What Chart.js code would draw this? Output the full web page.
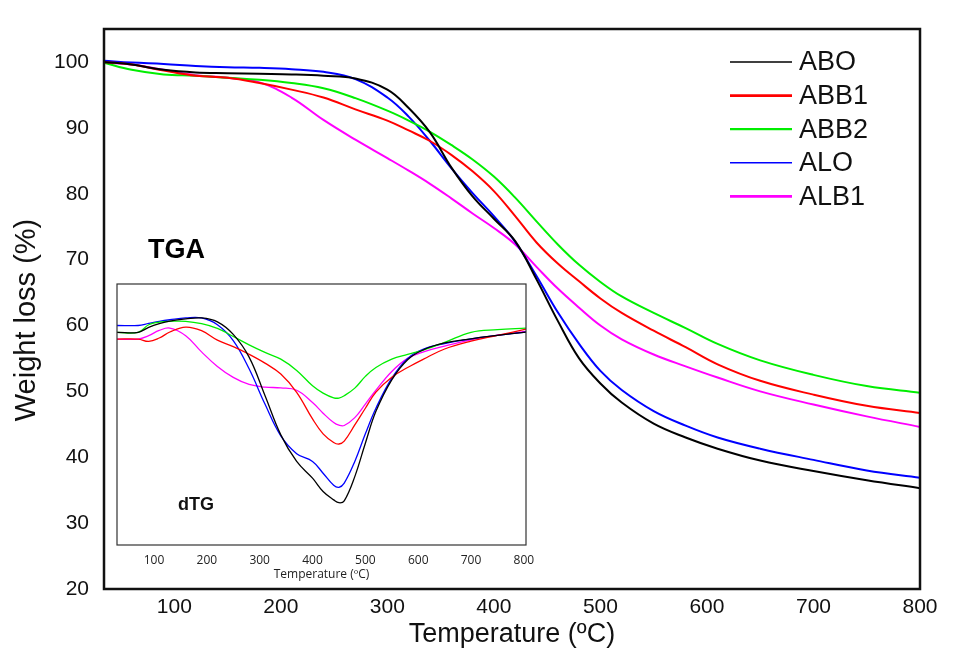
<!DOCTYPE html>
<html>
<head>
<meta charset="utf-8">
<script src="https://cdn.jsdelivr.net/npm/chart.js@4.4.1/dist/chart.umd.min.js"></script>
<style>
html,body{margin:0;padding:0;background:#ffffff;}
#wrap{position:relative;width:958px;height:662px;overflow:hidden;}
#wrap canvas{position:absolute;left:0;top:0;}
</style>
</head>
<body>
<div id="wrap">
<canvas id="mainChart" width="958" height="662"></canvas>
<canvas id="insetChart" width="958" height="662"></canvas>
</div>
<script>
// ---------- DATA ----------
const seriesNames = ['ABO', 'ABB1', 'ABB2', 'ALO', 'ALB1'];
const seriesColors = ['#000000', '#ff0000', '#00ee00', '#0000ff', '#ff00ff'];

// Main TGA curves (temperature in ºC, weight in %)
const tgaTemp = [34, 60, 90, 120, 150, 180, 210, 240, 270, 300, 320, 340, 360, 380, 400, 420, 440, 460, 480, 500, 520, 550, 580, 610, 650, 700, 750, 800];
const tgaABO  = [100.0, 99.6, 98.8, 98.4, 98.3, 98.2, 98.1, 97.9, 97.5, 95.8, 93.0, 89.3, 84.0, 79.6, 76.2, 72.8, 67.0, 60.7, 55.0, 51.2, 48.3, 45.1, 43.0, 41.3, 39.5, 37.9, 36.5, 35.3];
const tgaABB1 = [100.0, 99.6, 98.7, 97.9, 97.6, 96.8, 95.8, 94.6, 92.8, 91.1, 89.6, 88.0, 85.9, 83.4, 80.4, 76.6, 72.6, 69.4, 66.7, 64.1, 61.9, 59.2, 56.7, 54.1, 51.6, 49.5, 47.8, 46.7];
const tgaABB2 = [99.9, 98.8, 98.1, 97.9, 97.6, 97.3, 96.8, 96.0, 94.5, 92.6, 91.1, 89.4, 87.4, 85.2, 82.6, 79.4, 75.8, 72.3, 69.2, 66.6, 64.4, 61.9, 59.6, 57.2, 54.7, 52.5, 50.8, 49.8];
const tgaALO  = [100.2, 99.9, 99.7, 99.4, 99.2, 99.1, 98.9, 98.5, 97.4, 94.6, 91.7, 88.0, 83.9, 80.1, 76.6, 72.7, 67.5, 62.0, 57.2, 53.1, 50.2, 47.0, 44.8, 43.0, 41.3, 39.6, 38.0, 36.9];
const tgaALB1 = [99.9, 99.6, 98.8, 98.0, 97.6, 96.9, 94.6, 91.2, 88.2, 85.4, 83.5, 81.5, 79.3, 77.0, 74.8, 72.3, 68.9, 65.6, 62.7, 60.0, 57.9, 55.6, 53.8, 52.1, 50.0, 48.0, 46.2, 44.6];

// Inset dTG curves (temperature in ºC, relative derivative signal, arbitrary units)
const dtgTemp = [30, 70, 90, 110, 130, 160, 190, 220, 250, 280, 310, 340, 370, 400, 420, 440, 450, 460, 480, 500, 520, 550, 580, 610, 650, 700, 750, 804];
const dtgABO  = [81.5, 81.5, 83.4, 84.8, 85.8, 86.6, 87.0, 85.5, 80.7, 72.0, 57.3, 42.2, 32.0, 25.6, 20.5, 17.3, 16.2, 16.9, 26.2, 39.0, 51.2, 63.3, 71.0, 74.8, 77.4, 79.0, 80.3, 81.6];
const dtgABB1 = [78.9, 78.9, 78.0, 79.3, 81.6, 83.5, 82.1, 78.5, 76.0, 73.1, 69.7, 65.5, 58.5, 48.3, 42.6, 39.3, 38.7, 39.8, 46.0, 52.4, 58.6, 64.3, 68.0, 71.2, 75.1, 78.1, 80.3, 82.7];
const dtgABB2 = [81.5, 81.5, 84.4, 85.4, 85.7, 85.7, 84.8, 83.0, 79.9, 76.7, 73.8, 71.2, 66.9, 61.0, 58.2, 56.4, 56.3, 57.2, 60.1, 64.6, 68.0, 71.2, 73.0, 74.7, 77.6, 81.5, 82.5, 83.1];
const dtgALO  = [84.1, 84.1, 84.9, 85.7, 86.3, 87.0, 87.0, 84.4, 78.3, 67.5, 54.0, 41.8, 35.0, 32.0, 27.5, 22.9, 22.1, 23.7, 32.0, 42.6, 52.4, 63.9, 71.5, 75.1, 77.2, 79.0, 80.3, 81.6];
const dtgALB1 = [78.9, 78.9, 80.2, 82.2, 83.1, 80.2, 74.0, 68.4, 64.2, 61.5, 60.5, 60.2, 59.3, 54.6, 50.5, 46.9, 45.9, 45.8, 48.8, 54.0, 59.3, 66.5, 71.5, 74.0, 76.2, 78.6, 80.4, 81.8];

// Tick labels
const mainXTicks  = [100, 200, 300, 400, 500, 600, 700, 800];
const mainYTicks  = [20, 30, 40, 50, 60, 70, 80, 90, 100];
const insetXTicks = [100, 200, 300, 400, 500, 600, 700, 800];

// Texts
const mainXTitle = 'Temperature (ºC)';
const mainYTitle = 'Weight loss (%)';
const insetXTitle = 'Temperature (ºC)';
const mainLabel = 'TGA';
const insetLabel = 'dTG';

// ---------- STYLE ----------
const MAIN_FONT = "'Liberation Sans', Arial, sans-serif";
const INSET_FONT = "'Open Sans', 'Noto Sans', sans-serif";
const legendLineWidths = [1.6, 2.6, 2.2, 1.6, 2.6];

function pairs(xs, ys) { return xs.map((x, i) => ({ x: x, y: ys[i] })); }

const tgaSeries = [tgaABO, tgaABB1, tgaABB2, tgaALO, tgaALB1];
const dtgSeries = [dtgABO, dtgABB1, dtgABB2, dtgALO, dtgALB1];

// ---------- MAIN CHART ----------
const mainDecor = {
  id: 'mainDecor',
  afterDraw(chart) {
    const ctx = chart.ctx;
    const a = chart.chartArea;
    ctx.save();
    ctx.strokeStyle = '#111111';
    ctx.lineWidth = 2.5;
    ctx.strokeRect(a.left, a.top, a.right - a.left, a.bottom - a.top);
    ctx.fillStyle = '#111111';
    ctx.font = '29px ' + MAIN_FONT;
    ctx.textAlign = 'center';
    ctx.textBaseline = 'alphabetic';
    ctx.translate(35, 320);
    ctx.rotate(-Math.PI / 2);
    ctx.fillText(mainYTitle, 0, 0);
    ctx.restore();

    ctx.save();
    ctx.fillStyle = '#000000';
    ctx.font = 'bold 27px ' + MAIN_FONT;
    ctx.textAlign = 'left';
    ctx.textBaseline = 'alphabetic';
    ctx.fillText(mainLabel, 148, 258);
    chart.data.datasets.forEach((ds, i) => {
      const y = 62 + i * 33.6;
      ctx.strokeStyle = ds.borderColor;
      ctx.lineWidth = legendLineWidths[i];
      ctx.beginPath();
      ctx.moveTo(730, y);
      ctx.lineTo(792, y);
      ctx.stroke();
      ctx.fillStyle = '#111111';
      ctx.font = '27px ' + MAIN_FONT;
      ctx.textBaseline = 'middle';
      ctx.fillText(ds.label, 799, y + 1);
    });
    ctx.restore();
  }
};

new Chart(document.getElementById('mainChart'), {
  type: 'line',
  data: {
    datasets: seriesNames.map((name, i) => ({
      label: name,
      data: pairs(tgaTemp, tgaSeries[i]),
      borderColor: seriesColors[i],
      backgroundColor: seriesColors[i],
      borderWidth: 2,
      pointRadius: 0,
      fill: false,
      tension: 0.4
    }))
  },
  options: {
    responsive: false,
    animation: false,
    devicePixelRatio: 1,
    layout: { padding: { left: 0, top: 29, right: 38, bottom: 0 } },
    plugins: { legend: { display: false }, tooltip: { enabled: false } },
    scales: {
      x: {
        type: 'linear',
        min: 34,
        max: 800,
        afterBuildTicks: s => { s.ticks = mainXTicks.map(v => ({ value: v })); },
        afterFit: s => { s.height = 73; },
        grid: { display: false, drawTicks: false },
        border: { display: false },
        ticks: {
          autoSkip: false, maxRotation: 0, padding: 6,
          color: '#111111',
          font: { family: MAIN_FONT, size: 21 }
        },
        title: {
          display: true, text: mainXTitle, color: '#111111',
          font: { family: MAIN_FONT, size: 27 },
          padding: { top: 0, bottom: 11 }
        }
      },
      y: {
        type: 'linear',
        min: 20,
        max: 105,
        afterBuildTicks: s => { s.ticks = mainYTicks.map(v => ({ value: v })); },
        afterFit: s => { s.width = 104; },
        grid: { display: false, drawTicks: false },
        border: { display: false },
        ticks: {
          autoSkip: false, padding: 15,
          color: '#111111',
          font: { family: MAIN_FONT, size: 21 }
        }
      }
    }
  },
  plugins: [mainDecor]
});

// ---------- INSET CHART ----------
const insetDecor = {
  id: 'insetDecor',
  beforeDatasetsDraw(chart) {
    const a = chart.chartArea;
    const ctx = chart.ctx;
    ctx.save();
    ctx.fillStyle = '#ffffff';
    ctx.fillRect(a.left, a.top, a.right - a.left, a.bottom - a.top);
    ctx.restore();
  },
  afterDraw(chart) {
    const a = chart.chartArea;
    const ctx = chart.ctx;
    ctx.save();
    ctx.strokeStyle = '#333333';
    ctx.lineWidth = 1.2;
    ctx.strokeRect(a.left, a.top, a.right - a.left, a.bottom - a.top);
    ctx.fillStyle = '#111111';
    ctx.font = 'bold 18px ' + MAIN_FONT;
    ctx.textAlign = 'left';
    ctx.textBaseline = 'alphabetic';
    ctx.fillText(insetLabel, 178, 510);
    ctx.restore();
  }
};

new Chart(document.getElementById('insetChart'), {
  type: 'line',
  data: {
    datasets: seriesNames.map((name, i) => ({
      label: name,
      data: pairs(dtgTemp, dtgSeries[i]),
      borderColor: seriesColors[i],
      borderWidth: 1.3,
      pointRadius: 0,
      fill: false,
      tension: 0.4
    }))
  },
  options: {
    responsive: false,
    animation: false,
    devicePixelRatio: 1,
    layout: { padding: { left: 117, top: 284, right: 432, bottom: 72 } },
    plugins: { legend: { display: false }, tooltip: { enabled: false } },
    scales: {
      x: {
        type: 'linear',
        min: 30,
        max: 804,
        afterBuildTicks: s => { s.ticks = insetXTicks.map(v => ({ value: v })); },
        afterFit: s => { s.height = 45; },
        grid: { display: false, drawTicks: false },
        border: { display: false },
        ticks: {
          autoSkip: false, maxRotation: 0, padding: 8,
          color: '#222222',
          font: { family: INSET_FONT, size: 12 }
        },
        title: {
          display: true, text: insetXTitle, color: '#222222',
          font: { family: INSET_FONT, size: 12 },
          padding: { top: 0, bottom: 8 }
        }
      },
      y: { display: false, min: 0, max: 100 }
    }
  },
  plugins: [insetDecor]
});
</script>
</body>
</html>
